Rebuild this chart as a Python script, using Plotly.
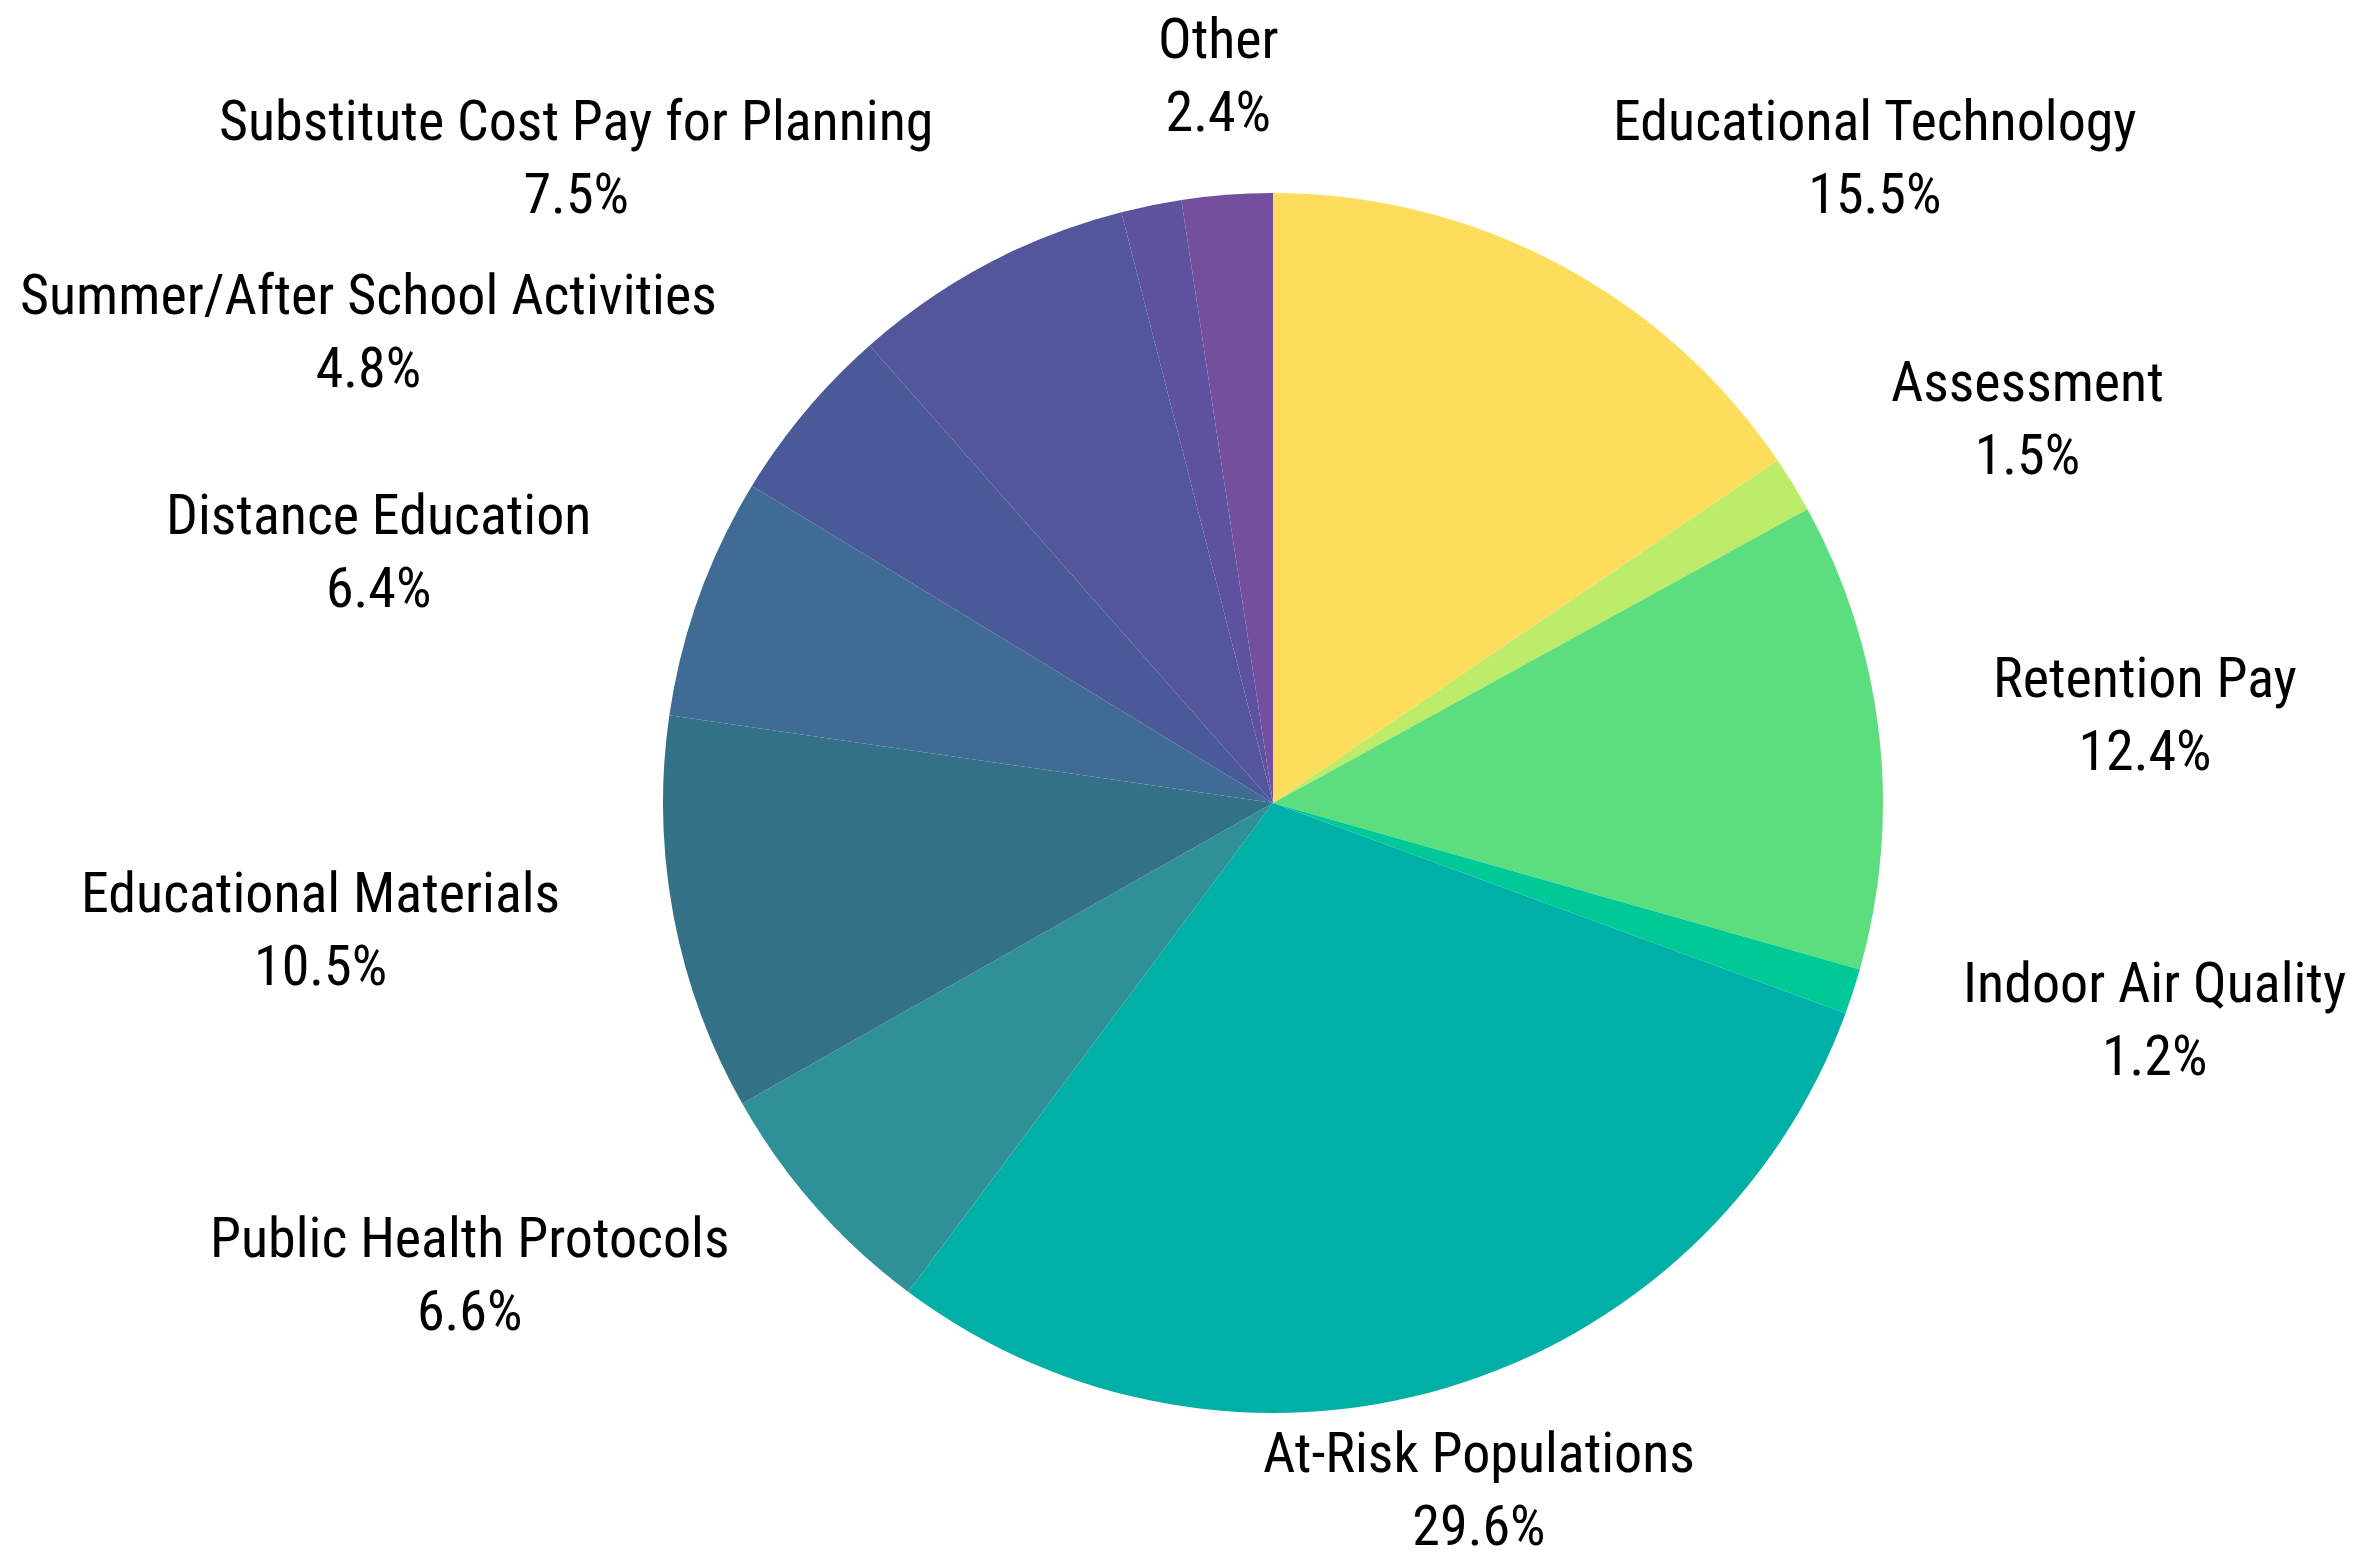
import math
import plotly.graph_objects as go

categories = [
    "Educational Technology", "Assessment", "Retention Pay", "Indoor Air Quality",
    "At-Risk Populations", "Public Health Protocols", "Educational Materials",
    "Distance Education", "Summer/After School Activities",
    "Substitute Cost Pay for Planning", "Unlabeled", "Other",
]
values = [15.5, 1.5, 12.4, 1.2, 29.6, 6.6, 10.5, 6.4, 4.8, 7.5, 1.6, 2.4]
show_label = [True] * 10 + [False, True]
colors = [
    "#FEDD5C", "#BDEB6A", "#5CDE7E", "#00C998", "#00B0A7", "#2F9197",
    "#337187", "#3F6B94", "#4A5997", "#53569A", "#5E529E", "#734F9D",
]

W, H = 2356, 1562
CX, CY, R = 1265, 795, 610  # pixel geometry of the pie
LABEL_DIST = 1.2
LABEL_PAD = -9               # radial correction of the label ring (px)
LABEL_DX, LABEL_DY = 0, -7   # small offset of the label ring
FONT = "Roboto Condensed, Liberation Sans Narrow, Roboto, sans-serif"

fig = go.Figure(go.Pie(
    labels=categories,
    values=values,
    sort=False,
    direction="clockwise",
    rotation=0,
    marker=dict(colors=colors, line=dict(width=0)),
    textinfo="none",
    hoverinfo="label+percent",
    domain=dict(x=[(CX - R) / W, (CX + R) / W], y=[1 - (CY + R) / H, 1 - (CY - R) / H]),
))

total = sum(values)
cum = 0.0
annotations = []
for name, v, show in zip(categories, values, show_label):
    mid = (cum + v / 2) / total * 2 * math.pi
    cum += v
    if not show:
        continue
    sx, sy = math.sin(mid), math.cos(mid)
    rr = LABEL_DIST * R + LABEL_PAD
    px = CX + LABEL_DX + rr * sx
    py = CY + LABEL_DY - rr * sy
    if abs(sx) < 0.35:
        xa = "center"
    else:
        xa = "left" if sx > 0 else "right"
    annotations.append(dict(
        x=px / W, y=1 - py / H, xref="paper", yref="paper",
        text=f"{name}<br>{v / total * 100:.1f}%",
        showarrow=False, xanchor=xa, yanchor="middle", align="center",
        font=dict(family=FONT, size=56, color="#000000"),
    ))

fig.update_layout(
    width=W, height=H,
    margin=dict(l=0, r=0, t=0, b=0),
    paper_bgcolor="white", plot_bgcolor="white",
    showlegend=False,
    annotations=annotations,
)

fig.write_html("out.html")
